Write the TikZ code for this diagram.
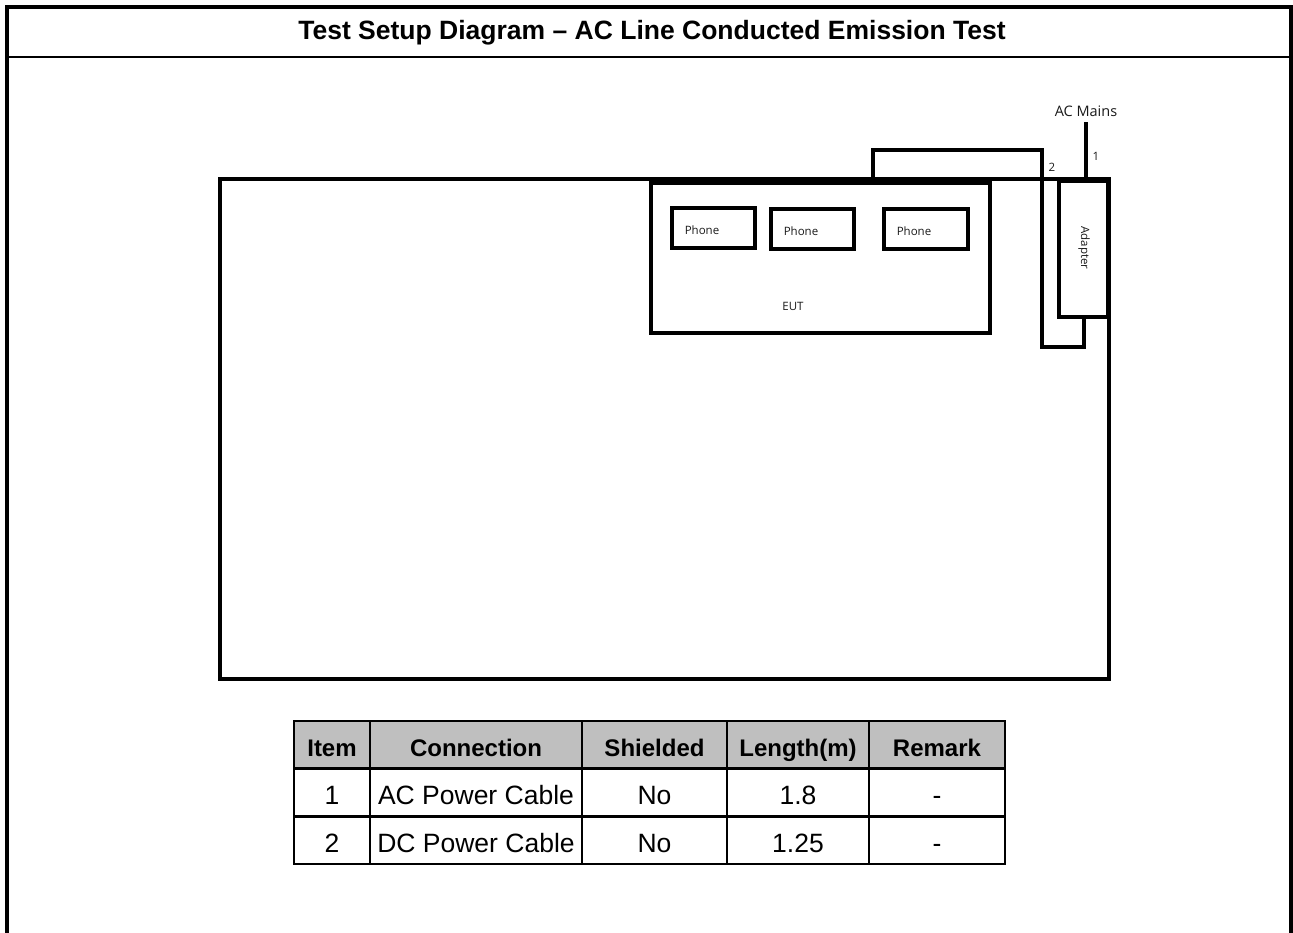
\documentclass[tikz,border=0pt]{standalone}
\usepackage{fontspec}
\setmainfont{Liberation Sans}
\newfontfamily\segoe{Open Sans}
\begin{document}
\begin{tikzpicture}[x=1pt,y=-1pt,
  box/.style={draw,line width=4pt,inner sep=0pt,minimum width=#1},
  smalltxt/.style={font=\segoe\fontsize{11.5}{13}\selectfont,inner sep=0pt,text=black!90},
  cable/.style={line width=4pt},
  cell/.style={draw,line width=2.5pt,inner sep=0pt,minimum height=47pt,text height=24pt,text depth=1pt,font=\fontsize{26.5}{30}\selectfont},
  hcell/.style={cell,fill=black!25,font=\bfseries\fontsize{24}{28}\selectfont}]
\useasboundingbox (0,0) rectangle (1293,933);
% outer frame
\draw[line width=4pt] (7,933) -- (7,7.5) -- (1291,7.5) -- (1291,933);
\draw[line width=2.5pt] (7,57) -- (1291,57);
\node[font=\bfseries\fontsize{26.5}{30}\selectfont,inner sep=0pt] (title) at (652,33) {Test Setup Diagram -- AC Line Conducted Emission Test};
% table (ground plane)
\node[box=889pt,minimum height=500pt] (tbl) at (664.5,429) {};
\node[box=339pt,minimum height=150pt] (eut) at (820.5,258) {};
\node[box=83pt,minimum height=40pt] (p1) at (713.5,228) {};
\node[box=83pt,minimum height=40pt] (p2) at (812.5,229) {};
\node[box=84pt,minimum height=40pt] (p3) at (926,229) {};
\node[box=49pt,minimum height=136pt] (ad) at (1083.5,249) {};
\node[smalltxt] (t1) at (702,230) {Phone};
\node[smalltxt] (t2) at (801,231) {Phone};
\node[smalltxt] (t3) at (914,231) {Phone};
\node[smalltxt] (teut) at (793,306) {EUT};
\node[smalltxt,rotate=-90] (tad) at (1084,248) {Adapter};
% cables
\coordinate (b1) at (873,150);
\coordinate (b2) at (1042,150);
\coordinate (b3) at (1042,347);
\coordinate (b4) at (1084,347);
\draw[cable] (eut.north -| b1) -- (b1) -- (b2) -- (b3) -- (b4) -- (ad.south -| b4);
\coordinate (m1) at (1086,122);
\draw[cable] (ad.north -| m1) -- (m1);
\node[smalltxt,font=\segoe\fontsize{14.5}{16}\selectfont] (acm) at (1086,111) {AC Mains};
\node[smalltxt] (n1) at (1096,156) {1};
\node[smalltxt] (n2) at (1052,167) {2};
% cable table
\node[hcell,minimum width=76pt] (h1) at (332,744.5) {Item};
\node[hcell,minimum width=212pt] (h2) at (476,744.5) {Connection};
\node[hcell,minimum width=145pt] (h3) at (654.5,744.5) {Shielded};
\node[hcell,minimum width=142pt] (h4) at (798,744.5) {Length(m)};
\node[hcell,minimum width=136pt] (h5) at (937,744.5) {Remark};
\node[cell,minimum width=76pt] (a1) at (332,792.5) {1};
\node[cell,minimum width=212pt] (a2) at (476,792.5) {AC Power Cable};
\node[cell,minimum width=145pt] (a3) at (654.5,792.5) {No};
\node[cell,minimum width=142pt] (a4) at (798,792.5) {1.8};
\node[cell,minimum width=136pt] (a5) at (937,792.5) {-};
\node[cell,minimum width=76pt] (c1) at (332,840.5) {2};
\node[cell,minimum width=212pt] (c2) at (476,840.5) {DC Power Cable};
\node[cell,minimum width=145pt] (c3) at (654.5,840.5) {No};
\node[cell,minimum width=142pt] (c4) at (798,840.5) {1.25};
\node[cell,minimum width=136pt] (c5) at (937,840.5) {-};
\end{tikzpicture}
\end{document}
